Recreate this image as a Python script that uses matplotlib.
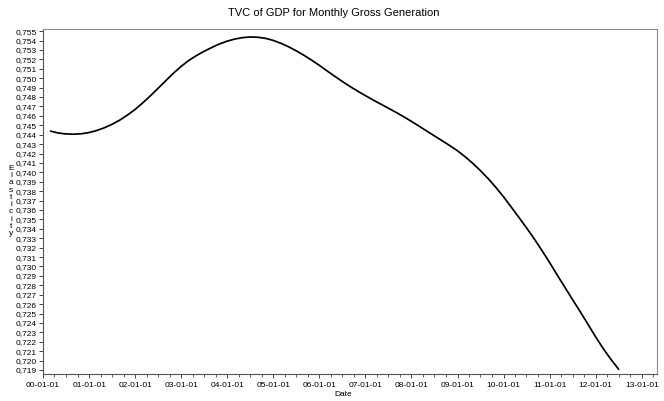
import matplotlib
matplotlib.use("Agg")
import matplotlib.pyplot as plt
import matplotlib.dates as mdates
from matplotlib.ticker import MultipleLocator, FuncFormatter
import pandas as pd
from matplotlib import font_manager

# ---- data (bi-monthly readings of the curve) ----
start_date = "2000-03-01"
elasticity = [
    0.74438, 0.74418, 0.74408, 0.74405, 0.74410,
    0.74423, 0.74444, 0.74473, 0.74510, 0.74555, 0.74609,
    0.74669, 0.74737, 0.74812, 0.74892, 0.74974, 0.75054,
    0.75126, 0.75188, 0.75240, 0.75285, 0.75327, 0.75364,
    0.75394, 0.75416, 0.75431, 0.75438, 0.75435, 0.75423,
    0.75401, 0.75371, 0.75334, 0.75291, 0.75243, 0.75191,
    0.75136, 0.75079, 0.75022, 0.74966, 0.74912, 0.74862,
    0.74815, 0.74770, 0.74726, 0.74682, 0.74637, 0.74590,
    0.74541, 0.74491, 0.74439, 0.74387, 0.74335, 0.74283,
    0.74228, 0.74166, 0.74096, 0.74018, 0.73932, 0.73839,
    0.73739, 0.73633, 0.73523, 0.73411, 0.73293, 0.73169,
    0.73041, 0.72911, 0.72780, 0.72649, 0.72518, 0.72385,
    0.72251, 0.72127, 0.72013, 0.71908,
]
dates = pd.date_range(start_date, periods=len(elasticity), freq="2MS")

title = "TVC of GDP for Monthly Gross Generation"
xlabel = "Date"
ylabel = "Elasticity"

# ---- fonts ----
avail = {f.name for f in font_manager.fontManager.ttflist}
narrow = "Liberation Sans Narrow" if "Liberation Sans Narrow" in avail else "Liberation Sans"

fig = plt.figure(figsize=(6.64, 4.01), dpi=100)
ax = fig.add_axes([43 / 664, 1 - 374 / 401, 614 / 664, (374 - 28.5) / 401])

ax.plot(dates, elasticity, color="black", linewidth=1.25,
        solid_capstyle="round", solid_joinstyle="round")

ax.set_xlim(pd.Timestamp("2000-01-01"), pd.Timestamp("2013-05-01"))
ax.set_ylim(0.71858, 0.75528)

ax.xaxis.set_major_locator(mdates.YearLocator())
ax.xaxis.set_minor_locator(mdates.MonthLocator(bymonth=[4, 7, 10]))
ax.xaxis.set_major_formatter(mdates.DateFormatter("%y-%m-%d"))
ax.yaxis.set_major_locator(MultipleLocator(0.001))
ax.yaxis.set_major_formatter(FuncFormatter(lambda v, p: f"{v:.3f}".replace(".", ",")))

ax.tick_params(axis="both", which="major", direction="out", length=3, width=0.7,
               color="#444444", labelsize=6, pad=1.5)
ax.tick_params(axis="x", which="minor", direction="out", length=2, width=0.6, color="#444444")
for lab in ax.get_xticklabels() + ax.get_yticklabels():
    lab.set_fontfamily(narrow)
ax.tick_params(axis="x", which="major", pad=3)

for side in ["left", "bottom"]:
    ax.spines[side].set_color("#555555")
    ax.spines[side].set_linewidth(0.8)
for side in ["top", "right"]:
    ax.spines[side].set_color("#8a8a8a")
    ax.spines[side].set_linewidth(0.8)

fig.text(334 / 664, 1 - 13 / 401, title, ha="center", va="center",
         fontsize=8, family="Liberation Sans")
fig.text(343 / 664, 1 - 395 / 401, xlabel, ha="center", va="center",
         fontsize=6, family=narrow)
fig.text(11 / 664, 1 - 201 / 401, "\n".join(ylabel), ha="center", va="center",
         fontsize=6, family=narrow, linespacing=1.05)

fig.savefig("out.png", dpi=100)
